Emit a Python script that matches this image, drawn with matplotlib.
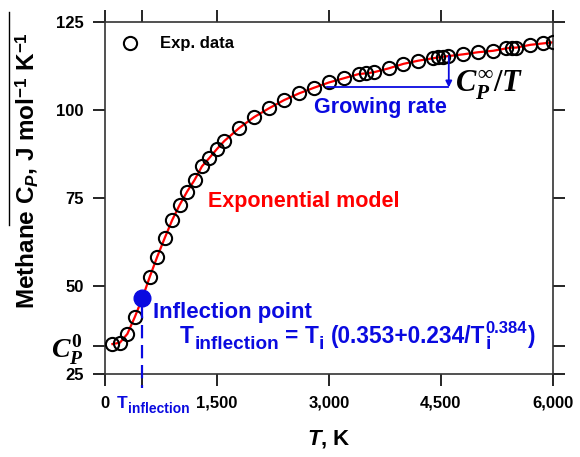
import matplotlib
matplotlib.use('agg')
import matplotlib.pyplot as plt
from matplotlib.lines import Line2D

# methane heat capacity
temps = [100, 200, 300, 400, 600, 700, 800, 900, 1000, 1100, 1200, 1300,
         1400, 1500, 1600, 1800, 2000, 2200, 2400, 2600, 2800, 3000, 3200,
         3400, 3500, 3600, 3800, 4000, 4200, 4400, 4460, 4530, 4600, 4800,
         5000, 5200, 5380, 5450, 5510, 5700, 5870, 6000]
cp = [33.5, 33.9, 36.4, 41.2, 52.6, 58.3, 63.6, 68.7, 73.0, 76.8, 80.1, 84.0,
      86.4, 88.9, 91.2, 94.9, 98.0, 100.5, 102.8, 104.7, 106.3, 107.8, 109.0,
      110.2, 110.4, 110.7, 111.8, 113.1, 114.0, 114.7, 114.9, 115.1, 115.3,
      115.8, 116.4, 116.8, 117.5, 117.7, 117.7, 118.5, 118.9, 119.2]
t_infl = 500
cp_infl = 46.5
cp0 = 33

x_ticks = [0, t_infl, 1500, 3000, 4500, 6000]
x_labels = ['0', '', '1,500', '3,000', '4,500', '6,000']
y_ticks = [25, cp0, 50, 75, 100, 125]
y_labels = ['25', r'$C_P^0$', '50', '75', '100', '125']

blue = '#0a0ae0'

plt.rcParams['font.family'] = ['Liberation Sans', 'DejaVu Sans']
plt.rcParams['font.weight'] = 'bold'
plt.rcParams['axes.labelweight'] = 'bold'
plt.rcParams['mathtext.fontset'] = 'custom'
plt.rcParams['mathtext.rm'] = 'Liberation Serif:bold'
plt.rcParams['mathtext.it'] = 'Liberation Serif:bold:italic'
plt.rcParams['mathtext.bf'] = 'Liberation Sans:bold'
plt.rcParams['mathtext.sf'] = 'Liberation Sans:bold:italic'

fig = plt.figure(figsize=(5.8, 4.57), dpi=100)
ax = fig.add_axes([0.181, 0.1816, 0.772, 0.7704])
renderer = fig.canvas.get_renderer()


def chain_text(xy, xycoords, pieces, color):
    # pieces: (text, size, dy, gap before, stack on previous start)
    off = 0.0
    start = 0.0
    for s, size, dy, gap, stack in pieces:
        if not stack:
            start = off + gap
        t = ax.annotate(s, xy=xy, xycoords=xycoords, xytext=(start, dy),
                        textcoords='offset points', ha='left', va='baseline',
                        fontsize=size, color=color, annotation_clip=False)
        w = t.get_window_extent(renderer).width * 72 / fig.dpi
        off = max(off, start + w)


# model curve follows the points, circles on top
line_t = temps[:4] + [t_infl] + temps[4:]
line_cp = cp[:4] + [cp_infl] + cp[4:]
ax.plot(line_t, line_cp, color='red', lw=1.6, zorder=2)
h = ax.plot(temps, cp, 'o', ms=9.5, mfc='none', mec='black', mew=1.5,
            zorder=3, label='Exp. data')[0]
ax.plot([t_infl], [cp_infl], 'o', ms=12, color=blue, zorder=4)

ax.set_xlim(0, 6000)
ax.set_ylim(25, 125)
ax.set_xticks(x_ticks, labels=x_labels)
ax.set_yticks(y_ticks, labels=y_labels)
ax.tick_params(direction='out', length=8.5, width=1.2, top=True, right=True,
               labelsize=12, pad=7)
ax.get_yticklabels()[1].set_fontsize(20)
for sp in ax.spines.values():
    sp.set_linewidth(1.2)
    sp.set_color('#333333')

ax.set_xlabel(r'$\mathsf{T}$, K', fontsize=16)
ax.set_ylabel(r'Methane $\mathbf{C}_{\mathsf{P}}$, J mol$^{\mathbf{-1}}$ K$^{\mathbf{-1}}$',
              fontsize=17.5)
ax.xaxis.set_label_coords(0.5, -0.153)
ax.yaxis.set_label_coords(-0.145, 0.577)

ax.legend(handles=[h], loc='center left', bbox_to_anchor=(0.037, 0.9375),
          frameon=False, borderaxespad=0, borderpad=0, handlelength=1.0,
          handletextpad=1.3, fontsize=12)

# inflection annotations
ax.plot([t_infl, t_infl], [44.5, 21], ls=(0, (6, 3)), color=blue, lw=1.6,
        clip_on=False, zorder=4)
chain_text((161, -0.0966), ('data', 'axes fraction'),
           [('T', 12.5, 0, 0, False), ('inflection', 10, -3.5, 0, False)],
           blue)
ax.text(643, 40.9, 'Inflection point', color=blue, fontsize=16,
        va='baseline')
chain_text((1004, 33.8), 'data',
           [('T', 16.3, 0, 0, False),
            ('inflection', 13.7, -4.5, 0.3, False),
            ('=', 16.3, 0, 4.5, False),
            ('T', 16.3, 0, 4.5, False),
            ('i', 13.7, -4.5, 0.3, False),
            ('(0.353+0.234/T', 16.3, 0, 4.5, False),
            ('i', 13.7, -4.5, 0.3, False),
            ('0.384', 12, 7, 0, True),
            (')', 16.3, 0, 0.5, False)],
           blue)

ax.text(2665, 73.9, 'Exponential model', color='red', fontsize=15.5,
        ha='center', va='center')

# growing rate marker
ax.plot([2975, 4590], [106.4, 106.4], color=blue, lw=1.3, zorder=4)
ax.annotate('', xy=(4607, 106.4), xytext=(4607, 115.3),
            arrowprops=dict(arrowstyle='-|>', color=blue, lw=1.3,
                            mutation_scale=9, shrinkA=0, shrinkB=0))
ax.text(3697, 100.6, 'Growing rate', color=blue, fontsize=15.5,
        ha='center', va='center')
ax.text(4690, 107, r'$C_P^{\infty}/T$', fontsize=22, ha='left', va='center')

fig.add_artist(Line2D([9 / 580, 9 / 580], [1 - 12 / 457, 1 - 225 / 457],
                      color='black', lw=1))

fig.savefig('out.png', dpi=100)
